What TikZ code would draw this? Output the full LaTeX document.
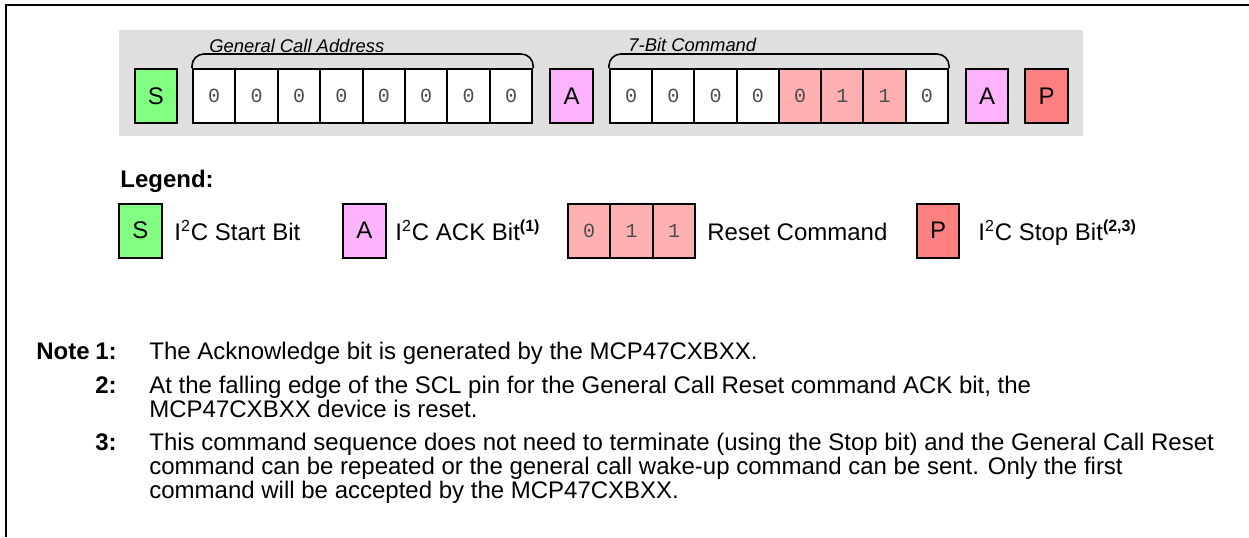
\documentclass[tikz,border=0pt]{standalone}
\usepackage{fontspec}
\setmainfont{Liberation Sans}
\setmonofont{Liberation Mono}
\usetikzlibrary{positioning}

\definecolor{fondoGris}{HTML}{DFDFDF}
\definecolor{verdeInicio}{HTML}{80FF80}
\definecolor{rosaAck}{HTML}{FFB3FF}
\definecolor{rojoReset}{HTML}{FFB0B0}
\definecolor{rojoParada}{HTML}{FF8080}

\begin{document}
\begin{tikzpicture}[
    x=0.5pt, y=-0.5pt,
    % --- CELDAS: bits de datos de la trama ---
    celda/.style={draw=black, line width=1pt, fill=white, inner sep=0pt, minimum width=21.2pt, minimum height=27pt, font=\fontsize{10}{10}\ttfamily, text=black!70},
    celdaReset/.style={celda, fill=rojoReset},
    % --- CAJAS: bits de control ---
    caja/.style={draw=black, line width=1pt, inner sep=0pt, minimum width=21.2pt, minimum height=27pt, font=\fontsize{12}{12}\selectfont},
    cajaInicio/.style={caja, fill=verdeInicio},
    cajaAck/.style={caja, fill=rosaAck},
    cajaParada/.style={caja, fill=rojoParada},
    % --- TEXTOS ---
    llave/.style={line width=0.8pt, rounded corners=6pt},
    titulo/.style={anchor=base west, inner sep=0pt, font=\fontsize{9.2}{9.2}\selectfont\itshape},
    texto/.style={anchor=base west, inner sep=0pt, font=\fontsize{12}{12}\selectfont},
    negrita/.style={texto, font=\fontsize{12}{12}\selectfont\bfseries}
]
    \useasboundingbox (0,0) rectangle (1249,537);

    % --- MARCO ---
    \draw[line width=1pt] (1249,5) -- (6,5) -- (6,537);

    % --- TRAMA DE RESET POR LLAMADA GENERAL ---
    \fill[fondoGris] (119,30) rectangle (1083,136);

    \node[cajaInicio] (s) at (156,96) {S};
    \foreach \i in {1,...,8}
        \node[celda] (g\i) at ({214.2+42.4*(\i-1)},96) {0};
    \node[cajaAck] (a1) at (571.5,96) {A};
    \foreach \i/\v/\estilo in {1/0/celda, 2/0/celda, 3/0/celda, 4/0/celda,
                               5/0/celdaReset, 6/1/celdaReset, 7/1/celdaReset, 8/0/celda}
        \node[\estilo] (c\i) at ({631.1+42.25*(\i-1)},96) {\v};
    \node[cajaAck] (a2) at (987,96) {A};
    \node[cajaParada] (p) at (1046.5,96) {P};

    % llaves y titulos
    \draw[llave] (g1.north west) -- ++(0,-14) -| (g8.north east);
    \draw[llave] (c1.north west) -- ++(0,-14) -| (c8.north east);
    \node[titulo] (tituloDir) at (209,52) {General Call Address};
    \node[titulo] (tituloCmd) at (628,51) {7-Bit Command};

    % --- LEYENDA ---
    \node[negrita] (leyenda) at (120,187) {Legend:};

    \node[cajaInicio] (ls) at (140.5,230.5) {S};
    \node[texto] (lsTxt) at (174,240) {I\textsuperscript{2}C Start Bit};

    \node[cajaAck] (la) at (364.5,230.5) {A};
    \node[texto] (laTxt) at (395,240) {I\textsuperscript{2}C ACK Bit\textsuperscript{\bfseries(1)}};

    \node[celdaReset] (lr1) at (589.2,230.5) {0};
    \node[celdaReset] (lr2) at (631.6,230.5) {1};
    \node[celdaReset] (lr3) at (674,230.5) {1};
    \node[texto] (lrTxt) at (707,240) {Reset Command};

    \node[cajaParada] (lp) at (938,230.5) {P};
    \node[texto] (lpTxt) at (978,240) {I\textsuperscript{2}C Stop Bit\textsuperscript{\bfseries(2,3)}};

    % --- NOTAS ---
    \node[negrita] (nota) at (36,359) {Note};
    \node[negrita] (n1) at (95,359) {1:};
    \node[texto] (n1a) at (149,359) {The Acknowledge bit is generated by the MCP47CXBXX.};

    \node[negrita] (n2) at (95,393) {2:};
    \node[texto] (n2a) at (149,393) {At the falling edge of the SCL pin for the General Call Reset command ACK bit, the};
    \node[texto] (n2b) at (149,417) {MCP47CXBXX device is reset.};

    \node[negrita] (n3) at (95,450) {3:};
    \node[texto] (n3a) at (149,450) {This command sequence does not need to terminate (using the Stop bit) and the General Call Reset};
    \node[texto] (n3b) at (149,474) {command can be repeated or the general call wake-up command can be sent. Only the first};
    \node[texto] (n3c) at (149,498) {command will be accepted by the MCP47CXBXX.};

\end{tikzpicture}
\end{document}
